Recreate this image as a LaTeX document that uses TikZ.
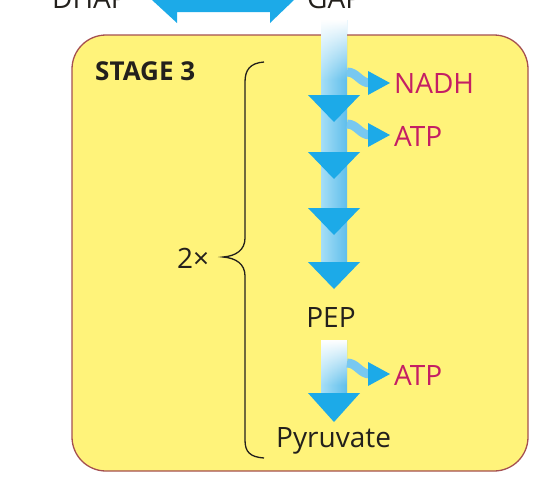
\documentclass[tikz,border=0pt]{standalone}
\usepackage{fontspec}
\setmainfont{Open Sans}
\usetikzlibrary{fadings}
\definecolor{boxfill}{RGB}{255,243,122}
\definecolor{boxline}{RGB}{165,80,80}
\definecolor{headblue}{RGB}{28,170,232}
\definecolor{shaftL}{RGB}{165,222,246}
\definecolor{shaftR}{RGB}{95,190,236}
\definecolor{sideblue}{RGB}{120,200,240}
\definecolor{magentatxt}{RGB}{196,30,100}
\definecolor{darktxt}{RGB}{35,32,28}
\tikzset{
  lbl/.style={inner sep=0pt, text=darktxt, font=\fontsize{28}{30}\selectfont},
  prod/.style={inner sep=0pt, text=magentatxt, font=\fontsize{28}{30}\selectfont},
  stagelbl/.style={inner sep=0pt, text=darktxt, font=\fontsize{26}{28}\selectfont\bfseries},
  headtri/.style={fill=headblue},
  bracepath/.style={draw=darktxt, line width=1.3pt},
  sidearr/.pic={
    \draw[line width=9pt, sideblue] (0,0) to[out=0,in=180] (23,11);
    \fill[headblue] (21,-1) -- (43,11) -- (21,23) -- cycle;
  }
}
\begin{document}
\begin{tikzpicture}[x=1pt,y=-1pt]
\useasboundingbox (0,0) rectangle (553,485);
\clip (0,0) rectangle (553,485);
\fill[white] (0,0) rectangle (553,485);
% stage box
\draw[draw=boxline, fill=boxfill, line width=1.3pt, rounded corners=34pt] (72,35) rectangle (528,471);
% top labels
\node[lbl, anchor=base east] (dhap) at (128,8) {DHAP};
\node[lbl, anchor=base west] (gap) at (307,8) {GAP};
% double arrow
\fill[headblue] (152,0) -- (177,-24) -- (177,-12) -- (270,-12) -- (270,-24) -- (294,0)
  -- (270,23) -- (270,12) -- (177,12) -- (177,23) -- cycle;
% main shaft
\shade[left color=shaftL, right color=shaftR] (321,20) rectangle (347,268);
\fill[white, path fading=south] (321,20) rectangle (347,80);
\foreach \yy in {95,152,208,262} {
  \fill[headtri] (308,\yy) -- (360,\yy) -- (334,\yy+27) -- cycle;
}
% second shaft
\shade[left color=shaftL, right color=shaftR] (321,340) rectangle (347,398);
\fill[white, path fading=south] (321,340) rectangle (347,385);
\fill[headtri] (308,393) -- (360,393) -- (334,422) -- cycle;
% side arrows
\pic at (347,72) {sidearr};
\pic at (347,124) {sidearr};
\pic at (347,363) {sidearr};
% labels
\node[prod, anchor=base west] (nadh) at (394,93) {NADH};
\node[prod, anchor=base west] (atp1) at (394,146) {ATP};
\node[prod, anchor=base west] (atp2) at (394,385) {ATP};
\node[lbl, anchor=base] (pep) at (331,327) {PEP};
\node[lbl, anchor=base west] (pyr) at (276,447) {Pyruvate};
\node[stagelbl, anchor=base west] (stage) at (95,80) {STAGE 3};
\node[lbl, anchor=base west] (twox) at (177,268) {2×};
% brace
\draw[bracepath] (264,62) .. controls (250,63) and (245,70) .. (245,82) -- (245,238)
  .. controls (245,250) and (236,256) .. (223,257)
  .. controls (236,258) and (245,264) .. (245,276) -- (245,440)
  .. controls (245,452) and (250,457) .. (264,458);
\end{tikzpicture}
\end{document}
